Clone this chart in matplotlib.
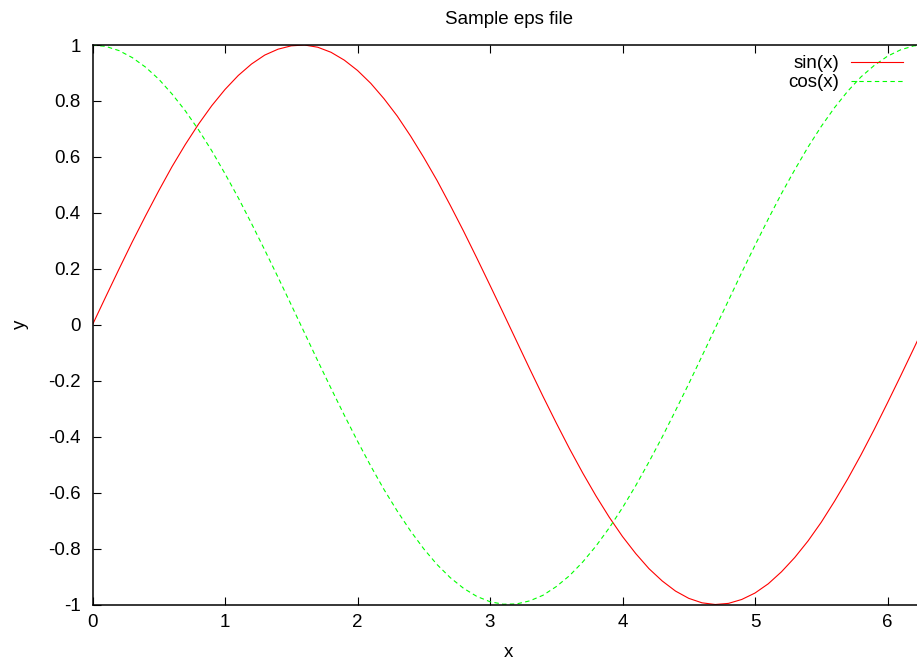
import matplotlib
matplotlib.use("Agg")
import matplotlib.pyplot as plt

plt.rcParams['font.family'] = ['Liberation Sans', 'DejaVu Sans']

# sample positions (x)
x_vals = [0.0, 0.1, 0.2, 0.3, 0.4, 0.5, 0.6, 0.7, 0.8, 0.9,
          1.0, 1.1, 1.2, 1.3, 1.4, 1.5, 1.6, 1.7, 1.8, 1.9,
          2.0, 2.1, 2.2, 2.3, 2.4, 2.5, 2.6, 2.7, 2.8, 2.9,
          3.0, 3.1, 3.2, 3.3, 3.4, 3.5, 3.6, 3.7, 3.8, 3.9,
          4.0, 4.1, 4.2, 4.3, 4.4, 4.5, 4.6, 4.7, 4.8, 4.9,
          5.0, 5.1, 5.2, 5.3, 5.4, 5.5, 5.6, 5.7, 5.8, 5.9,
          6.0, 6.1, 6.2, 6.283]

sin_vals = [0.000, 0.100, 0.199, 0.296, 0.389, 0.479, 0.565, 0.644, 0.717, 0.783,
            0.841, 0.891, 0.932, 0.964, 0.985, 0.997, 1.000, 0.992, 0.974, 0.946,
            0.909, 0.863, 0.808, 0.746, 0.675, 0.598, 0.516, 0.427, 0.335, 0.239,
            0.141, 0.042, -0.058, -0.158, -0.256, -0.351, -0.443, -0.530, -0.612, -0.688,
            -0.757, -0.818, -0.872, -0.916, -0.952, -0.978, -0.994, -1.000, -0.996, -0.982,
            -0.959, -0.926, -0.883, -0.832, -0.773, -0.706, -0.631, -0.551, -0.465, -0.374,
            -0.279, -0.182, -0.083, 0.000]

cos_vals = [1.000, 0.995, 0.980, 0.955, 0.921, 0.878, 0.825, 0.765, 0.697, 0.622,
            0.540, 0.454, 0.362, 0.267, 0.170, 0.071, -0.029, -0.129, -0.227, -0.323,
            -0.416, -0.505, -0.589, -0.666, -0.737, -0.801, -0.857, -0.904, -0.942, -0.971,
            -0.990, -0.999, -0.998, -0.987, -0.967, -0.936, -0.897, -0.848, -0.791, -0.726,
            -0.654, -0.575, -0.490, -0.401, -0.307, -0.211, -0.112, -0.012, 0.087, 0.187,
            0.284, 0.378, 0.469, 0.554, 0.635, 0.709, 0.776, 0.835, 0.886, 0.927,
            0.960, 0.983, 0.997, 1.000]

x_ticks = [0, 1, 2, 3, 4, 5, 6]
y_ticks = [-1, -0.8, -0.6, -0.4, -0.2, 0, 0.2, 0.4, 0.6, 0.8, 1]
y_labels = ['-1', '-0.8', '-0.6', '-0.4', '-0.2', '0', '0.2', '0.4', '0.6', '0.8', '1']

fs = 13.5

fig = plt.figure(figsize=(9.17, 6.61), dpi=100)
# axes runs a bit past the right edge of the image, like the original
ax = fig.add_axes([92.5 / 917, 56.5 / 661, 832.5 / 917, 559.5 / 661])

ax.plot(x_vals, sin_vals, color='#ff0000', lw=0.8, label='sin(x)')
ax.plot(x_vals, cos_vals, color='#00ff00', lw=0.8, ls=(0, (4, 3)), label='cos(x)')

ax.set_xlim(0, 6.283)
ax.set_ylim(-1, 1)
ax.set_xticks(x_ticks)
ax.set_yticks(y_ticks)
ax.set_yticklabels(y_labels)

for sp in ax.spines.values():
    sp.set_linewidth(1.1)
ax.tick_params(direction='in', length=6, width=0.8, top=True, right=True,
               labelsize=fs)
ax.tick_params(axis='x', pad=7)
ax.tick_params(axis='y', pad=8.5)

ax.set_title("Sample eps file", fontsize=fs, pad=15)
ax.set_xlabel("x", fontsize=fs, labelpad=9)
ax.set_ylabel("y", fontsize=fs, labelpad=14)

ax.legend(loc='upper right', bbox_to_anchor=(903 / 917, 606 / 661),
          bbox_transform=fig.transFigure, frameon=False, markerfirst=False,
          fontsize=fs, handlelength=2.8, handletextpad=0.6, labelspacing=0.1,
          borderpad=0, borderaxespad=0)

fig.savefig("out.png", dpi=100)
